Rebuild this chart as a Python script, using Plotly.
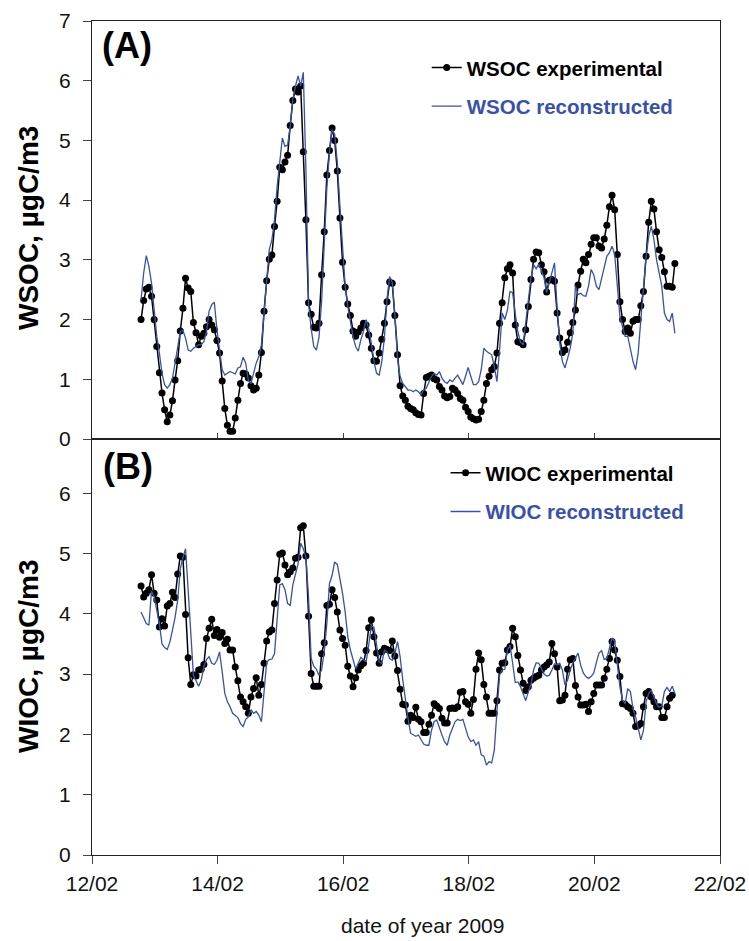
import pandas as pd
import plotly.graph_objects as go

# Hourly series, starting 12/02/2009 18:45
START = "2009-02-12 18:45"

wsoc_experimental = [
    2.00, 2.32, 2.51, 2.54, 2.39, 2.00, 1.55, 1.11, 0.77, 0.49,
    0.29, 0.40, 0.64, 0.99, 1.31, 1.81, 2.19, 2.69, 2.53, 2.47,
    1.95, 1.78, 1.58, 1.72, 1.77, 1.88, 2.00, 1.91, 1.83, 1.65,
    1.44, 0.97, 0.51, 0.23, 0.13, 0.13, 0.35, 0.65, 0.93, 1.10,
    1.09, 1.02, 0.89, 0.82, 0.85, 1.07, 1.45, 2.14, 2.65, 3.01,
    3.08, 3.56, 3.98, 4.55, 4.51, 4.64, 4.75, 5.25, 5.67, 5.86,
    5.81, 5.91, 4.81, 3.67, 2.28,
    2.09, 1.87, 1.86, 1.94, 2.75, 3.47, 4.42, 4.83, 5.21, 5.00,
    4.49, 3.70, 2.96, 2.54, 2.26, 2.07, 1.81, 1.72, 1.79, 1.86,
    1.94, 1.91, 1.74, 1.52, 1.31, 1.30, 1.44, 1.67, 1.94, 2.30,
    2.63, 2.61, 2.07, 1.41, 0.89, 0.72, 0.65, 0.55, 0.51, 0.49,
    0.44, 0.41, 0.40, 0.76, 1.03, 1.05, 1.07, 1.01, 0.99, 0.88,
    0.82, 0.72, 0.69, 0.71, 0.85, 0.82, 0.76, 0.68, 0.65, 0.53,
    0.46, 0.37, 0.34, 0.32, 0.33, 0.46, 0.65, 0.93, 1.05, 1.16,
    1.21, 1.44, 1.94, 2.28, 2.70, 2.85, 2.92, 2.78, 1.91, 1.63,
    1.61, 1.58, 1.83, 2.22, 2.67, 3.01, 3.13, 3.12, 2.92, 2.80,
    2.46, 2.66, 2.67, 2.64, 2.11, 1.69, 1.45, 1.49, 1.62, 1.78,
    1.95, 2.16, 2.58, 2.81, 3.01, 2.95, 3.09, 3.26, 3.37, 3.37,
    3.23, 3.20, 3.35, 3.58, 3.89, 4.08, 3.84, 3.09, 2.30, 2.00,
    1.80, 1.86, 1.77, 1.97, 2.00, 2.00, 2.23, 2.47, 3.06, 3.63,
    3.98, 3.85, 3.47, 3.17, 3.04, 2.80, 2.56, 2.56, 2.54, 2.94,
]

wsoc_reconstructed = [
    2.33, 2.78, 3.07, 2.89, 2.61, 2.11, 1.72, 1.44, 1.10, 0.91,
    0.85, 0.91, 1.02, 1.27, 1.55, 1.80, 1.82, 1.69, 1.49, 1.47,
    1.52, 1.55, 1.58, 1.58, 1.63, 1.80, 2.14, 2.25, 2.29, 1.83,
    1.44, 1.16, 1.07, 1.10, 1.13, 1.11, 1.09, 1.19, 1.21, 1.37,
    1.27, 0.98, 0.93, 1.10, 1.27, 1.38, 1.58, 2.11, 2.67, 3.17,
    3.34, 3.67, 4.23, 4.68, 5.04, 4.90, 4.92, 5.24, 5.69, 5.91,
    6.08, 5.91, 6.14, 4.51, 2.28,
    1.85, 1.55, 1.49, 1.70, 2.30, 3.20, 4.20, 4.80, 5.18, 5.10,
    4.63, 3.90, 3.12, 2.56, 2.22, 1.94, 1.72, 1.55, 1.47, 1.66,
    1.80, 2.00, 1.85, 1.60, 1.30, 1.10, 1.07, 1.30, 1.70, 2.35,
    2.72, 2.62, 2.10, 1.35, 1.05, 0.93, 0.88, 0.82, 0.82, 0.79,
    0.82, 0.79, 0.74, 0.82, 0.85, 0.96, 1.05, 1.10, 1.07, 1.13,
    1.02, 0.96, 0.93, 0.99, 0.96, 1.02, 1.07, 0.99, 0.91, 1.05,
    1.20, 1.05, 0.91, 0.91, 0.96, 1.16, 1.52, 1.47, 1.44, 1.41,
    1.21, 0.96, 1.49, 2.11, 2.00, 2.16, 2.47, 2.45, 2.10, 1.80,
    1.62, 1.58, 1.95, 2.30, 2.70, 2.92, 2.85, 2.93, 2.80, 2.70,
    2.45, 2.62, 2.78, 2.95, 2.20, 1.60, 1.30, 1.19, 1.35, 1.52,
    1.77, 2.56, 2.42, 2.44, 2.40, 2.39, 2.56, 2.84, 2.75, 2.56,
    2.50, 2.70, 2.89, 3.06, 3.12, 3.23, 3.09, 2.50, 2.05, 1.88,
    1.72, 1.72, 1.52, 1.30, 1.16, 1.45, 2.00, 2.55, 3.05, 3.39,
    3.56, 3.34, 3.00, 2.78, 2.56, 2.11, 2.00, 1.97, 2.11, 1.77,
]

wioc_experimental = [
    4.46, 4.28, 4.34, 4.40, 4.65, 4.34, 4.23, 3.78, 3.92, 3.80,
    4.13, 4.17, 4.36, 4.27, 4.66, 4.96, 4.94, 3.99, 3.27, 2.83,
    2.99, 2.97, 3.07, 3.08, 3.16, 3.59, 3.76, 3.91, 3.64, 3.74,
    3.61, 3.69, 3.51, 3.58, 3.40, 3.40, 3.12, 2.89, 2.62, 2.54,
    2.46, 2.35, 2.62, 2.76, 2.94, 2.65, 2.83, 3.18, 3.55, 3.70,
    3.73, 4.17, 4.56, 4.99, 5.01, 4.81, 4.65, 4.70, 4.76, 4.92,
    4.94, 5.43, 5.46, 4.96, 3.96,
    3.01, 2.80, 2.80, 2.80, 3.34, 3.52, 4.14, 4.16, 4.40, 4.27,
    4.03, 3.73, 3.59, 3.48, 3.13, 2.97, 2.79, 2.94, 3.07, 3.14,
    3.18, 3.39, 3.77, 3.90, 3.62, 3.35, 3.18, 3.37, 3.43, 3.41,
    3.39, 3.55, 3.30, 3.06, 2.75, 2.50, 2.49, 2.22, 2.32, 2.28,
    2.45, 2.25, 2.21, 2.03, 2.03, 2.17, 2.32, 2.51, 2.47, 2.43,
    2.27, 2.19, 2.19, 2.43, 2.44, 2.43, 2.46, 2.70, 2.71, 2.54,
    2.50, 2.35, 2.58, 3.08, 3.35, 3.24, 2.83, 2.62, 2.35, 2.35,
    2.35, 2.56, 3.07, 3.18, 3.19, 3.40, 3.46, 3.76, 3.62, 3.31,
    3.07, 2.85, 2.73, 2.79, 2.90, 2.93, 2.96, 2.98, 3.07, 3.12,
    3.15, 3.20, 3.51, 3.34, 3.12, 2.56, 2.57, 2.65, 3.08, 3.24,
    3.26, 2.81, 2.62, 2.49, 2.49, 2.50, 2.38, 2.54, 2.68, 2.82,
    2.82, 2.82, 2.93, 3.08, 3.26, 3.54, 3.40, 3.23, 2.96, 2.51,
    2.50, 2.46, 2.43, 2.35, 2.13, 2.15, 2.18, 2.46, 2.68, 2.71,
    2.62, 2.54, 2.46, 2.46, 2.28, 2.28, 2.46, 2.60, 2.65,
]

wioc_reconstructed = [
    4.03, 3.92, 3.84, 3.81, 4.38, 4.28, 4.03, 3.84, 3.50, 3.44,
    3.41, 3.53, 3.73, 3.94, 4.23, 4.75, 4.93, 5.08, 4.39, 3.62,
    2.98, 2.89, 2.80, 2.90, 3.13, 3.24, 3.29, 3.18, 3.16, 3.23,
    3.37, 3.04, 2.68, 2.54, 2.46, 2.35, 2.32, 2.28, 2.18, 2.13,
    2.25, 2.29, 2.41, 2.35, 2.38, 2.32, 2.21, 2.76, 3.20, 3.24,
    3.25, 3.34, 3.98, 4.48, 4.50, 4.40, 4.17, 4.14, 4.48, 4.67,
    4.83, 5.17, 5.08, 4.94, 4.28,
    3.26, 3.13, 3.08, 2.98, 3.07, 3.37, 3.84, 4.50, 4.64, 4.86,
    4.82, 4.61, 4.34, 4.03, 3.62, 3.40, 3.23, 3.09, 3.18, 3.28,
    3.24, 3.20, 3.48, 3.80, 3.78, 3.46, 3.20, 3.18, 3.40, 3.37,
    3.26, 3.23, 3.34, 3.54, 3.29, 2.91, 2.54, 2.27, 2.02, 1.99,
    1.97, 1.99, 1.91, 1.84, 1.82, 1.82, 2.07, 2.21, 2.24, 2.10,
    1.99, 1.88, 1.82, 1.99, 2.10, 2.21, 2.25, 2.23, 2.25, 2.10,
    1.96, 1.88, 1.91, 1.82, 1.88, 1.66, 1.64, 1.49, 1.55, 1.53,
    1.74, 2.38, 2.98, 3.07, 3.08, 3.40, 3.48, 3.18, 2.86, 2.87,
    2.79, 2.68, 2.56, 2.71, 2.82, 3.07, 3.19, 3.18, 3.08, 3.00,
    2.97, 2.98, 3.07, 3.17, 3.15, 3.18, 3.07, 2.82, 2.90, 3.07,
    3.18, 3.26, 3.35, 3.15, 3.02, 2.96, 2.93, 2.96, 3.02, 3.19,
    3.35, 3.39, 3.24, 3.26, 3.43, 3.60, 3.54, 3.20, 2.79, 2.57,
    2.51, 2.76, 2.71, 2.43, 2.29, 2.10, 1.91, 2.07, 2.54, 2.68,
    2.73, 2.62, 2.50, 2.45, 2.47, 2.71, 2.78, 2.71, 2.80, 2.68,
]


def hourly(values):
    return pd.date_range(START, periods=len(values), freq="h")


BLACK = "#000000"
BLUE = "#3a52a6"
FONT = "Liberation Sans, Arial, sans-serif"
AXIS_LINE = "#222222"

fig = go.Figure()

fig.add_trace(go.Scatter(
    x=hourly(wsoc_experimental), y=wsoc_experimental, xaxis="x", yaxis="y",
    mode="lines+markers", name="<b>WSOC experimental</b>",
    line=dict(color=BLACK, width=1.5), marker=dict(color=BLACK, size=7),
    legend="legend", legendgroup="a1",
))
fig.add_trace(go.Scatter(
    x=hourly(wsoc_reconstructed), y=wsoc_reconstructed, xaxis="x", yaxis="y",
    mode="lines", name=f"<b><span style='color:{BLUE}'>WSOC reconstructed</span></b>",
    line=dict(color=BLUE, width=1.3),
    legend="legend", legendgroup="a2",
))
fig.add_trace(go.Scatter(
    x=hourly(wioc_experimental), y=wioc_experimental, xaxis="x2", yaxis="y2",
    mode="lines+markers", name="<b>WIOC experimental</b>",
    line=dict(color=BLACK, width=1.5), marker=dict(color=BLACK, size=7),
    legend="legend2", legendgroup="b1",
))
fig.add_trace(go.Scatter(
    x=hourly(wioc_reconstructed), y=wioc_reconstructed, xaxis="x2", yaxis="y2",
    mode="lines", name=f"<b><span style='color:{BLUE}'>WIOC reconstructed</span></b>",
    line=dict(color=BLUE, width=1.3),
    legend="legend2", legendgroup="b2",
))

split = (855 - 439) / 834.0
xrange_ = ["2009-02-12", "2009-02-22"]
DAY2 = 2 * 24 * 3600 * 1000

common_x = dict(
    type="date", range=xrange_, tick0="2009-02-12", dtick=DAY2,
    showline=True, linecolor=AXIS_LINE, linewidth=1.2, mirror=True,
    showgrid=False, zeroline=False, tickcolor="#444", tickwidth=1,
    automargin=False,
)
common_y = dict(
    showline=True, linecolor=AXIS_LINE, linewidth=1.2, mirror=True,
    showgrid=False, zeroline=False, ticks="outside", ticklen=8,
    tickcolor="#444", tickwidth=1, dtick=1,
    tickfont=dict(family=FONT, size=21, color="#111"),
    ticklabelstandoff=8, automargin=False,
)

legend_common = dict(
    bgcolor="rgba(0,0,0,0)", borderwidth=0,
    font=dict(family=FONT, size=20.5, color=BLACK),
    traceorder="grouped", tracegroupgap=9,
    xanchor="left", yanchor="top", itemwidth=30,
)

fig.update_layout(
    width=749, height=941,
    margin=dict(l=92, r=29, t=21, b=86, autoexpand=False),
    paper_bgcolor="white", plot_bgcolor="white",
    font=dict(family=FONT, color=BLACK),
    xaxis=dict(common_x, anchor="y", ticks="inside", ticklen=6, showticklabels=False),
    yaxis=dict(common_y, domain=[split, 1], range=[0, 7]),
    xaxis2=dict(common_x, anchor="y2", ticks="outside", ticklen=8, tickformat="%d/%m",
                tickfont=dict(family=FONT, size=21, color="#111"), ticklabelstandoff=2),
    yaxis2=dict(common_y, domain=[0, split], range=[0, 6.9]),
    legend=dict(legend_common, x=0.533, y=0.968),
    legend2=dict(legend_common, x=0.563, y=0.482),
    showlegend=True,
    annotations=[
        dict(text="<b>(A)</b>", x=0.012, y=(855 - 45) / 834.0, xref="paper", yref="paper",
             xanchor="left", yanchor="middle", showarrow=False,
             font=dict(family=FONT, size=36, color=BLACK)),
        dict(text="<b>(B)</b>", x=0.015, y=(855 - 466) / 834.0, xref="paper", yref="paper",
             xanchor="left", yanchor="middle", showarrow=False,
             font=dict(family=FONT, size=36, color=BLACK)),
        dict(text="<b>WSOC, µgC/m3</b>", x=(28 - 92) / 628.0, y=(855 - 228) / 834.0,
             xref="paper", yref="paper", xanchor="center", yanchor="middle",
             textangle=-90, showarrow=False,
             font=dict(family=FONT, size=28, color=BLACK)),
        dict(text="<b>WIOC, µgC/m3</b>", x=(28 - 92) / 628.0, y=(855 - 657) / 834.0,
             xref="paper", yref="paper", xanchor="center", yanchor="middle",
             textangle=-90, showarrow=False,
             font=dict(family=FONT, size=28, color=BLACK)),
        dict(text="date of year 2009", x=(422 - 92) / 628.0, y=(855 - 926) / 834.0,
             xref="paper", yref="paper", xanchor="center", yanchor="middle",
             showarrow=False, font=dict(family=FONT, size=21, color="#111")),
    ],
)

fig.write_html("out.html")
